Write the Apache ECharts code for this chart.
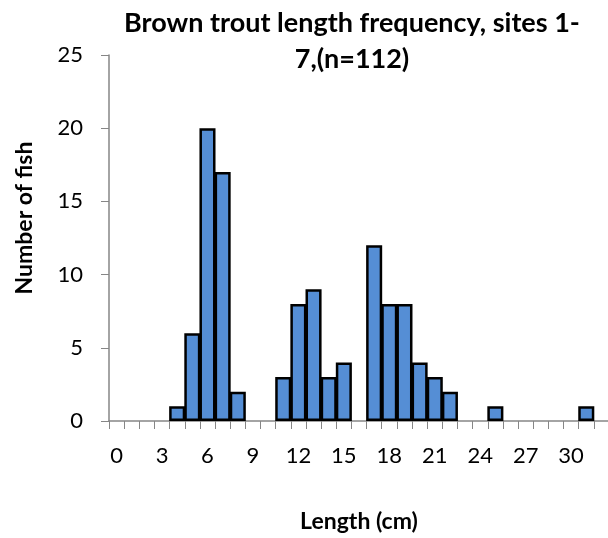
<!DOCTYPE html>
<html>
<head>
<meta charset="utf-8">
<script src="https://cdn.jsdelivr.net/npm/echarts@6/dist/echarts.min.js"></script>
<style>
  html, body { margin: 0; padding: 0; background: #fff; }
  #chart { width: 608px; height: 538px; }
</style>
</head>
<body>
<div id="chart"></div>
<script>
// length classes (cm) and counts
var lengths = [];
for (var i = 0; i <= 32; i++) lengths.push(String(i));
var fishCount = [0, 0, 0, 0, 1, 6, 20, 17, 2, 0, 0, 3, 8, 9, 3, 4, 0,
                 12, 8, 8, 4, 3, 2, 0, 0, 1, 0, 0, 0, 0, 0, 1, 0];
var yTicks = [0, 5, 10, 15, 20, 25];

var font = 'Lato, "Open Sans", sans-serif';
var axisGrey = '#868686';

var chart = echarts.init(document.getElementById('chart'));
chart.setOption({
  animation: false,
  title: {
    text: 'Brown trout length frequency, sites 1-\n7,(n=112)',
    left: 347,
    top: 0,
    textAlign: 'center',
    textStyle: { fontFamily: font, fontWeight: 'bold', fontSize: 27, lineHeight: 36, color: '#000' }
  },
  grid: { left: 109, top: 55, right: -1, bottom: 117, outerBoundsMode: 'none' },
  xAxis: {
    type: 'category',
    data: lengths,
    axisLine: { lineStyle: { color: axisGrey, width: 1.5 } },
    axisTick: { show: true, interval: 0, length: 8, lineStyle: { color: axisGrey } },
    axisLabel: { interval: 2, margin: 24, fontFamily: font, fontSize: 22, color: '#000' }
  },
  yAxis: {
    type: 'value',
    min: yTicks[0],
    max: yTicks[yTicks.length - 1],
    interval: 5,
    splitLine: { show: false },
    axisLine: { show: true, lineStyle: { color: axisGrey, width: 1.5 } },
    axisTick: { show: true, length: 8, lineStyle: { color: axisGrey } },
    axisLabel: { margin: 26, fontFamily: font, fontSize: 22, color: '#000' }
  },
  graphic: [{
    type: 'text',
    x: 25,
    y: 218,
    rotation: Math.PI / 2,
    style: {
      text: 'Number of fish',
      font: 'bold 23px ' + font,
      fill: '#000',
      align: 'center',
      verticalAlign: 'middle'
    }
  }, {
    type: 'text',
    x: 359,
    y: 522,
    style: {
      text: 'Length (cm)',
      font: 'bold 23px ' + font,
      fill: '#000',
      align: 'center',
      verticalAlign: 'middle'
    }
  }],
  series: [{
    type: 'bar',
    // empty classes left blank so no border is drawn along the axis
    data: fishCount.map(function (v) { return v === 0 ? '-' : v; }),
    barWidth: '106%',
    itemStyle: { color: '#558ED5', borderColor: '#000', borderWidth: 2.5 }
  }]
});
</script>
</body>
</html>
